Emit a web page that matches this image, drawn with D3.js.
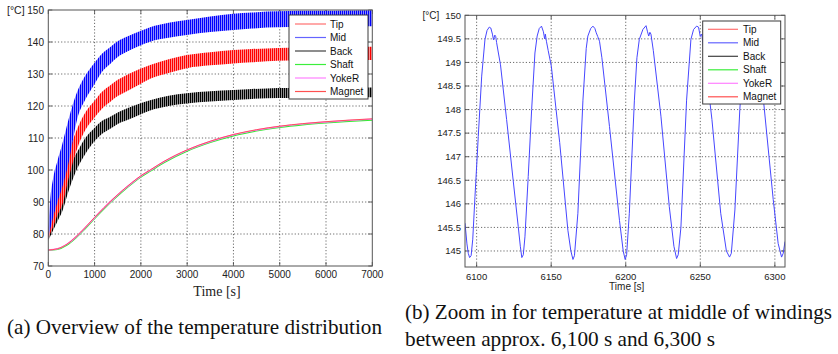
<!DOCTYPE html>
<html><head><meta charset="utf-8">
<script src="https://cdn.jsdelivr.net/npm/d3@7"></script>
<style>
body{margin:0;background:#fff} svg{display:block}
.sans{font-family:"Liberation Sans", Arial, Helvetica, sans-serif}
.serif{font-family:"Liberation Serif", "Times New Roman", Times, serif}
</style>
</head><body><svg id="c" width="838" height="354"></svg>
<script>
// ---------- data ----------
const seriesNames = ["Tip", "Mid", "Back", "Shaft", "YokeR", "Magnet"];
const legendColors = ["#ff7070", "#6464ff", "#404040", "#3cee3c", "#ff80ff", "#ff5050"];

// (a) overview: oscillating winding temperatures as upper/lower envelopes
const bandTimes = [0, 50, 100, 200, 300, 450, 626, 800, 987, 1150, 1348, 1500, 1707, 1950, 2200, 2600, 2990, 3500, 3997, 4400, 4718, 5200, 5700, 6200, 6600, 7000];
const midUpper  = [82, 92, 97, 103, 108, 116.5, 124.5, 129.5, 133.3, 136.2, 138.5, 140.2, 141.7, 143.2, 144.6, 146, 146.9, 148.0, 148.8, 149.2, 149.5, 149.7, 149.8, 149.8, 149.85, 149.9];
const midLower  = [79, 82, 85, 90, 94.5, 103, 116, 122, 126.6, 130.5, 133.3, 135.3, 137, 138.7, 140.1, 141.3, 142.2, 143.1, 143.75, 144.2, 144.5, 144.7, 144.8, 144.85, 144.9, 144.9];
const tipUpper  = [81, 87, 90, 95, 99.5, 106, 113, 118, 121.4, 124.3, 126.6, 128.2, 129.8, 131.4, 132.8, 134.6, 135.9, 136.8, 137.5, 137.8, 138, 138.2, 138.3, 138.4, 138.5, 138.5];
const tipLower  = [78.5, 80.5, 82, 86, 89, 98, 106.8, 112.5, 116.2, 119, 121.4, 123.1, 124.7, 126.6, 128.5, 130.3, 131.8, 132.7, 133.3, 133.7, 134, 134.2, 134.3, 134.4, 134.4, 134.4];
const backUpper = [80, 84, 87, 91, 95.5, 101, 105.7, 110, 113, 115.2, 116.7, 118, 119.3, 120.6, 121.8, 123.2, 124, 124.6, 125, 125.3, 125.5, 125.6, 125.7, 125.7, 125.8, 125.8];
const backLower = [78, 79.5, 81, 84, 87, 94, 100.5, 105, 108.8, 111.2, 113, 114.4, 115.6, 117.1, 118.6, 120, 120.8, 121.4, 121.9, 122.2, 122.4, 122.5, 122.6, 122.7, 122.7, 122.7];

// (a) overview: smooth rotor temperatures
const slowTimes = [0, 200, 400, 600, 800, 1000, 1200, 1400, 1600, 1800, 2000, 2200, 2500, 3000, 3500, 4000, 4500, 5000, 5500, 6000, 6500, 7000];
const shaftT  = [74.9, 75.2, 76.5, 78.8, 81.7, 84.8, 87.8, 90.6, 93.2, 95.6, 97.8, 99.6, 102.3, 105.9, 108.6, 110.7, 112.2, 113.3, 114.1, 114.7, 115.2, 115.6];
const yokeRT  = [75, 75.4, 76.8, 79.1, 82.0, 85.1, 88.1, 90.9, 93.5, 95.9, 98.1, 99.9, 102.6, 106.2, 108.9, 111.0, 112.5, 113.6, 114.4, 115.0, 115.5, 115.9];
const magnetT = [75, 75.4, 76.8, 79.2, 82.1, 85.2, 88.2, 91.0, 93.6, 96.0, 98.2, 100.0, 102.7, 106.3, 109.0, 111.1, 112.6, 113.7, 114.5, 115.1, 115.6, 116.0];

// (b) zoom: Mid winding temperature 6092..6307 s
const zoomTimes = [6092.2, 6093.5, 6094.4, 6095.3, 6096.3, 6097.4, 6098.9, 6101.1, 6103.4, 6105.6, 6107.0, 6108.5, 6109.5, 6110.6, 6111.3, 6112.2, 6112.8, 6113.4, 6114.6, 6116.0, 6120.1, 6124.5, 6127.9, 6129.3, 6130.3, 6131.3, 6132.4, 6134.6, 6136.9, 6139.1, 6140.6, 6142.0, 6143.5, 6144.8, 6145.6, 6146.1, 6146.8, 6148.0, 6150.1, 6155.7, 6161.2, 6163.2, 6164.6, 6165.6, 6167.9, 6171.3, 6173.5, 6174.6, 6176.5, 6178.0, 6179.3, 6180.2, 6181.2, 6182.4, 6184.0, 6189.1, 6195.8, 6198.3, 6199.6, 6200.6, 6202.4, 6205.8, 6207.5, 6209.1, 6211.5, 6213.6, 6214.6, 6215.4, 6216.2, 6216.9, 6218.5, 6223.6, 6229.2, 6232.3, 6234.1, 6235.2, 6237.0, 6240.8, 6243.7, 6245.5, 6247.5, 6248.8, 6250.0, 6251.0, 6253.0, 6257.8, 6263.7, 6267.5, 6269.6, 6270.8, 6273.2, 6276.5, 6279.5, 6281.5, 6283.3, 6284.5, 6286.0, 6288.0, 6292.6, 6298.9, 6302.2, 6304.5, 6305.6, 6306.8];
const zoomMid   = [145.59, 145.15, 144.95, 144.86, 144.9, 145.25, 146.16, 147.43, 148.71, 149.49, 149.68, 149.75, 149.73, 149.6, 149.48, 149.58, 149.55, 149.42, 149.2, 148.95, 147.79, 146.5, 145.52, 145.1, 144.86, 144.92, 145.3, 146.58, 148.0, 149.2, 149.56, 149.72, 149.77, 149.65, 149.5, 149.6, 149.45, 149.25, 148.92, 147.3, 145.44, 145.0, 144.82, 144.9, 145.8, 148.2, 149.3, 149.56, 149.72, 149.77, 149.72, 149.63, 149.55, 149.45, 149.1, 147.64, 145.65, 145.0, 144.82, 144.92, 145.8, 148.2, 149.1, 149.49, 149.7, 149.78, 149.65, 149.56, 149.64, 149.6, 149.25, 147.86, 145.94, 145.1, 144.84, 144.92, 145.5, 148.2, 149.49, 149.7, 149.77, 149.75, 149.55, 149.6, 149.1, 147.79, 145.8, 145.0, 144.87, 144.95, 145.87, 148.0, 149.45, 149.7, 149.76, 149.65, 149.5, 149.15, 148.12, 146.09, 145.16, 144.87, 144.95, 145.2];

const leftXTicks = [0, 1000, 2000, 3000, 4000, 5000, 6000, 7000];
const leftYTicks = [70, 80, 90, 100, 110, 120, 130, 140, 150];
const rightXTicks = [6100, 6150, 6200, 6250, 6300];
const rightYTicks = [145, 145.5, 146, 146.5, 147, 147.5, 148, 148.5, 149, 149.5, 150];
const rightYTickLabels = ["145", "145.5", "146", "146.5", "147", "147.5", "148", "148.5", "149", "149.5", "150"];

const captionA = "(a) Overview of the temperature distribution";
const captionB1 = "(b) Zoom in for temperature at middle of windings";
const captionB2 = "between approx. 6,100 s and 6,300 s";

// ---------- drawing ----------
const svg = d3.select("#c");
svg.append("rect").attr("width", 838).attr("height", 354).attr("fill", "#fff");
const defs = svg.append("defs");

function stripe(id, dark, light) {
  const p = defs.append("pattern").attr("id", id).attr("patternUnits", "userSpaceOnUse")
    .attr("width", 2).attr("height", 4);
  p.append("rect").attr("width", 2).attr("height", 4).attr("fill", light);
  p.append("rect").attr("width", 1).attr("height", 4).attr("fill", dark);
}
stripe("pMid", "#0000ff", "#8c8cff");
stripe("pTip", "#ff0000", "#ff9090");
stripe("pBack", "#000000", "#909090");

function frame(g, x, y, xTicks, yTicks, yLabels, fs, xLabY, yLabX) {
  const [x0, x1] = x.range(), [y1, y0] = y.range();
  const grid = g.append("g").attr("stroke", "#444").attr("stroke-width", 0.8).attr("stroke-dasharray", "1.2,2");
  xTicks.forEach(t => { const px = x(t); if (px > x0 + 1 && px < x1 - 1) grid.append("line").attr("x1", px).attr("x2", px).attr("y1", y0).attr("y2", y1); });
  yTicks.forEach(t => { const py = y(t); if (py > y0 + 1 && py < y1 - 1) grid.append("line").attr("y1", py).attr("y2", py).attr("x1", x0).attr("x2", x1); });
  const tk = g.append("g").attr("stroke", "#444").attr("stroke-width", 0.8);
  xTicks.forEach(t => { const px = x(t);
    tk.append("line").attr("x1", px).attr("x2", px).attr("y1", y1).attr("y2", y1 - 4);
    tk.append("line").attr("x1", px).attr("x2", px).attr("y1", y0).attr("y2", y0 + 4); });
  yTicks.forEach(t => { const py = y(t);
    tk.append("line").attr("y1", py).attr("y2", py).attr("x1", x0).attr("x2", x0 + 4);
    tk.append("line").attr("y1", py).attr("y2", py).attr("x1", x1).attr("x2", x1 - 4); });
  const lab = g.append("g").attr("class", "sans").attr("font-size", fs).attr("fill", "#222");
  xTicks.forEach(t => lab.append("text").attr("x", x(t)).attr("y", xLabY).attr("text-anchor", "middle").text(t));
  yTicks.forEach((t, i) => lab.append("text").attr("x", yLabX).attr("y", y(t)).attr("dy", "0.35em").attr("text-anchor", "end").text(yLabels[i]));
}

function border(g, x, y) {
  const [x0, x1] = x.range(), [y1, y0] = y.range();
  g.append("rect").attr("x", x0).attr("y", y0).attr("width", x1 - x0).attr("height", y1 - y0)
    .attr("fill", "none").attr("stroke", "#555").attr("stroke-width", 1);
}

function legend(g, bx, by, bw, bh, rows, lx0, lx1, tx, fs) {
  g.append("rect").attr("x", bx).attr("y", by).attr("width", bw).attr("height", bh)
    .attr("fill", "#fff").attr("stroke", "#3a3a3a").attr("stroke-width", 1);
  seriesNames.forEach((n, i) => {
    g.append("line").attr("x1", lx0).attr("x2", lx1).attr("y1", rows[i]).attr("y2", rows[i])
      .attr("stroke", legendColors[i]).attr("stroke-width", 1.2);
    g.append("text").attr("x", tx).attr("y", rows[i]).attr("dy", "0.35em").attr("class", "sans")
      .attr("font-size", fs).attr("fill", "#111").text(n);
  });
}

// ---- left chart ----
const gA = svg.append("g");
const xA = d3.scaleLinear().domain([0, 7000]).range([48.3, 372.3]);
const yA = d3.scaleLinear().domain([70, 150]).range([266, 10]);
frame(gA, xA, yA, leftXTicks, leftYTicks, leftYTicks.map(String), 10, 278, 44);
defs.append("clipPath").attr("id", "clipA").append("rect").attr("x", 48.3).attr("y", 10).attr("width", 324).attr("height", 256);
const dA = gA.append("g").attr("clip-path", "url(#clipA)");
const band = (up, lo) => d3.area().x((d, i) => xA(bandTimes[i])).y0((d, i) => yA(lo[i])).y1((d, i) => yA(up[i])).curve(d3.curveMonotoneX)(up);
[["pBack", backUpper, backLower], ["pTip", tipUpper, tipLower], ["pMid", midUpper, midLower]].forEach(([p, u, l]) => {
  dA.append("path").attr("d", band(u, l)).attr("fill", `url(#${p})`);
});
const slow = arr => d3.line().x((d, i) => xA(slowTimes[i])).y(d => yA(d)).curve(d3.curveMonotoneX)(arr);
dA.append("path").attr("d", slow(shaftT)).attr("fill", "none").attr("stroke", "#33ee33").attr("stroke-width", 1.3);
dA.append("path").attr("d", slow(yokeRT)).attr("fill", "none").attr("stroke", "#ff7cff").attr("stroke-width", 1.4);
dA.append("path").attr("d", slow(magnetT)).attr("fill", "none").attr("stroke", "#ff4a4a").attr("stroke-width", 0.9);
border(gA, xA, yA);
legend(gA, 289, 15, 79, 84, [24, 37.5, 51, 64.5, 78, 91.5], 295, 326, 330, 10);
gA.append("text").attr("x", 7).attr("y", 14).attr("class", "sans").attr("font-size", 10.5).attr("fill", "#222").text("[°C]");
gA.append("text").attr("x", 217).attr("y", 296).attr("text-anchor", "middle").attr("class", "serif").attr("font-size", 14).attr("fill", "#222").text("Time [s]");

// ---- right chart ----
const gB = svg.append("g");
const xB = d3.scaleLinear().domain([6092.2, 6306.8]).range([465, 785]);
const yB = d3.scaleLinear().domain([144.66, 150]).range([267, 15.3]);
frame(gB, xB, yB, rightXTicks, rightYTicks, rightYTickLabels, 9.5, 280, 461);
defs.append("clipPath").attr("id", "clipB").append("rect").attr("x", 465).attr("y", 15.3).attr("width", 320).attr("height", 251.7);
gB.append("g").attr("clip-path", "url(#clipB)").append("path")
  .attr("d", d3.line().x((d, i) => xB(zoomTimes[i])).y(d => yB(d))(zoomMid))
  .attr("fill", "none").attr("stroke", "#4646ff").attr("stroke-width", 1);
border(gB, xB, yB);
legend(gB, 702.7, 21, 78, 83, [29.3, 42.8, 56.3, 69.8, 83.3, 96.8], 708, 738, 743, 10);
gB.append("text").attr("x", 422.5).attr("y", 19).attr("class", "sans").attr("font-size", 10).attr("fill", "#222").text("[°C]");
gB.append("text").attr("x", 626.7).attr("y", 290).attr("text-anchor", "middle").attr("class", "sans").attr("font-size", 10).attr("fill", "#222").text("Time [s]");

// ---- captions ----
const cap = svg.append("g").attr("class", "serif").attr("font-size", 21).attr("fill", "#111");
cap.append("text").attr("x", 7).attr("y", 334).attr("textLength", 375).attr("lengthAdjust", "spacingAndGlyphs").text(captionA);
cap.append("text").attr("x", 405).attr("y", 319).attr("textLength", 427).attr("lengthAdjust", "spacingAndGlyphs").text(captionB1);
cap.append("text").attr("x", 405).attr("y", 346).attr("textLength", 310).attr("lengthAdjust", "spacingAndGlyphs").text(captionB2);
</script></body></html>
